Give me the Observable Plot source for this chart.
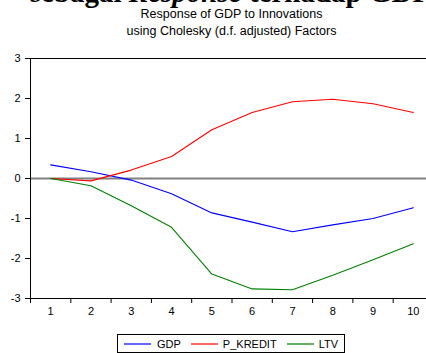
<!DOCTYPE html>
<html>
<head>
<meta charset="utf-8">
<script src="https://cdn.jsdelivr.net/npm/d3@7"></script>
<script src="https://cdn.jsdelivr.net/npm/@observablehq/plot@0.6"></script>
<style>
  html, body { margin: 0; padding: 0; background: #fff; overflow: hidden; }
  #wrap { position: relative; width: 426px; height: 353px; overflow: hidden; font-family: "Liberation Sans", Arial, sans-serif; }
  #heading { position: absolute; left: 8px; top: -22px; white-space: nowrap; font: bold 29px "Liberation Serif", "Times New Roman", serif; line-height: 28px; color: #000; }
  .title { position: absolute; left: 30px; width: 403px; text-align: center; font-size: 12.5px; line-height: 17px; color: #000; }
  #legend { position: absolute; left: 117px; top: 334px; width: 226px; height: 17px; border: 1px solid #000; display: flex; align-items: center; font-size: 11px; color: #000; box-sizing: content-box; }
  #legend .item { display: flex; align-items: center; }
  #legend svg { display: block; }
  #chart { position: absolute; left: 0; top: 0; }
</style>
</head>
<body>
<div id="wrap">
  <div id="heading">– sebagai <i>Response</i> terhadap GDP</div>
  <div class="title" style="top:6px">Response of GDP to Innovations</div>
  <div class="title" style="top:23px">using Cholesky (d.f. adjusted) Factors</div>
  <div id="chart"></div>
  <div id="legend"></div>
</div>
<script>
// Impulse-response horizon (periods)
const periods = [1, 2, 3, 4, 5, 6, 7, 8, 9, 10];

// Response of GDP to a shock in each variable
const gdp     = [0.34, 0.17, -0.04, -0.38, -0.86, -1.09, -1.33, -1.16, -1.00, -0.73];
const pKredit = [0.00, -0.06, 0.21, 0.55, 1.22, 1.65, 1.92, 1.98, 1.87, 1.65];
const ltv     = [0.00, -0.18, -0.68, -1.22, -2.39, -2.76, -2.78, -2.42, -2.03, -1.63];

// Series names and colours
const seriesNames  = ["GDP", "P_KREDIT", "LTV"];
const seriesColors = ["#0000ff", "#ff0000", "#008000"];

// Axis ticks
const yTicks = [-3, -2, -1, 0, 1, 2, 3];
const xTickMarks = [0.5, 1.5, 2.5, 3.5, 4.5, 5.5, 6.5, 7.5, 8.5, 9.5, 10.5];

const seriesValues = [gdp, pKredit, ltv];
const rows = seriesNames.flatMap((name, s) =>
  periods.map((p, i) => ({series: name, period: p, value: seriesValues[s][i]}))
);

const chart = Plot.plot({
  width: 426,
  height: 353,
  marginTop: 58,
  marginBottom: 55,
  marginLeft: 30,
  marginRight: -7,
  style: {fontFamily: "'Liberation Sans', Arial, sans-serif", fontSize: "11px", color: "#000", background: "transparent"},
  x: {domain: [0.5, 10.5]},
  y: {domain: [-3, 3]},
  color: {domain: seriesNames, range: seriesColors},
  marks: [
    Plot.ruleY([0], {stroke: "#808080", strokeWidth: 2.2}),
    Plot.line(rows, {x: "period", y: "value", z: "series", stroke: "series", strokeWidth: 1.1}),
    Plot.frame({stroke: "#000", strokeWidth: 1}),
    Plot.axisY(yTicks, {tickSize: 5, tickPadding: 5, label: null, stroke: "#000", tickFormat: d => String(d)}),
    Plot.axisX(xTickMarks, {tickSize: 5, tickFormat: () => "", label: null, stroke: "#000"}),
    Plot.axisX(periods, {tickSize: 0, tickPadding: 9, label: null, tickFormat: d => String(d)})
  ]
});
document.getElementById("chart").appendChild(chart);

// Legend with line swatches
const legend = document.getElementById("legend");
const gaps = [6, 10, 10];
const labelGaps = [6, 5, 5];
seriesNames.forEach((name, i) => {
  const item = document.createElement("div");
  item.className = "item";
  item.style.marginLeft = gaps[i] + "px";
  item.innerHTML = `<svg width="27" height="4"><line x1="0" x2="27" y1="2" y2="2" stroke="${seriesColors[i]}" stroke-width="1.2"/></svg><span style="margin-left:${labelGaps[i]}px">${name}</span>`;
  legend.appendChild(item);
});
</script>
</body>
</html>
